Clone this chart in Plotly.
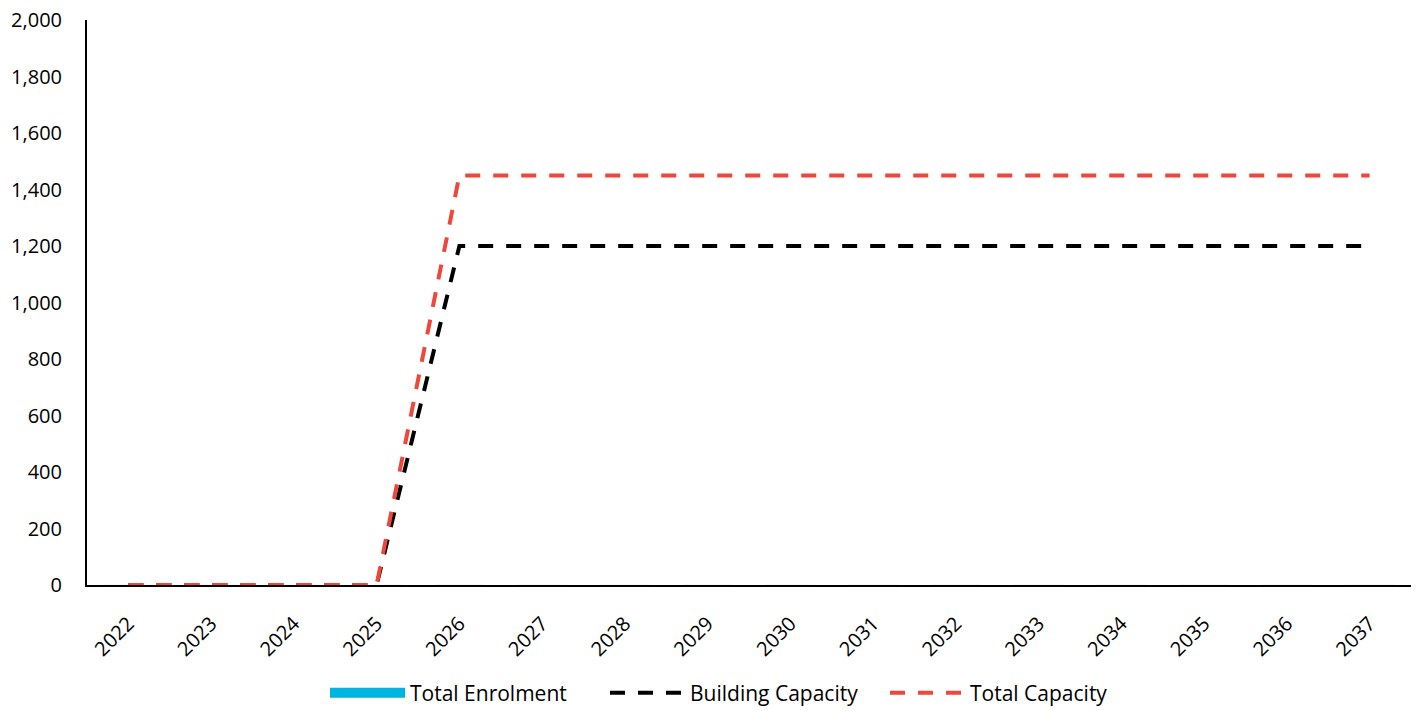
import plotly.graph_objects as go

years = [str(y) for y in range(2022, 2038)]
total_enrolment = [0] * 16
building_capacity = [0, 0, 0, 0] + [1200] * 12
total_capacity = [0, 0, 0, 0] + [1450] * 12

font_family = "Open Sans, Noto Sans, sans-serif"
enrol_color = "#00B4E0"

fig = go.Figure()
fig.add_trace(go.Bar(x=years, y=total_enrolment, name="Total Enrolment",
                     marker_color=enrol_color, showlegend=False,
                     legendgroup="enrol"))
# legend entry for the bars (wide swatch like the original)
fig.add_trace(go.Scatter(x=[None], y=[None], name="Total Enrolment", mode="lines",
                         line=dict(color=enrol_color, width=17),
                         legendgroup="enrol", hoverinfo="skip"))
fig.add_trace(go.Scatter(x=years, y=building_capacity, name="Building Capacity",
                         mode="lines",
                         line=dict(color="#000000", width=4, dash="15px,13px")))
fig.add_trace(go.Scatter(x=years, y=total_capacity, name="Total Capacity",
                         mode="lines",
                         line=dict(color="#F0473A", width=4, dash="15px,13px")))

fig.update_layout(
    width=1417, height=711,
    paper_bgcolor="white", plot_bgcolor="white",
    margin=dict(l=87, r=6, t=20, b=126, autoexpand=False),
    font=dict(family=font_family, size=20, color="#000000"),
    showlegend=True,
    legend=dict(orientation="h", xref="container", x=325 / 1417, xanchor="left",
                yref="container", y=(711 - 693) / 711, yanchor="middle",
                font=dict(size=21), itemwidth=75, entrywidth=190,
                traceorder="normal", borderwidth=0),
    bargap=0.4,
)
fig.update_xaxes(type="category", showline=True, linecolor="#000000", linewidth=2,
                 showgrid=False, ticks="", tickangle=-45, automargin=False,
                 tickfont=dict(size=20), ticklabelstandoff=17)
fig.update_yaxes(range=[0, 2000], dtick=200, tickformat=",", showline=True,
                 linecolor="#000000", linewidth=2, showgrid=False, ticks="",
                 zeroline=False, automargin=False,
                 tickfont=dict(size=20), ticklabelstandoff=19)

fig.write_html("out.html", config={"displayModeBar": False},
               post_script="document.body.style.margin='0';")
